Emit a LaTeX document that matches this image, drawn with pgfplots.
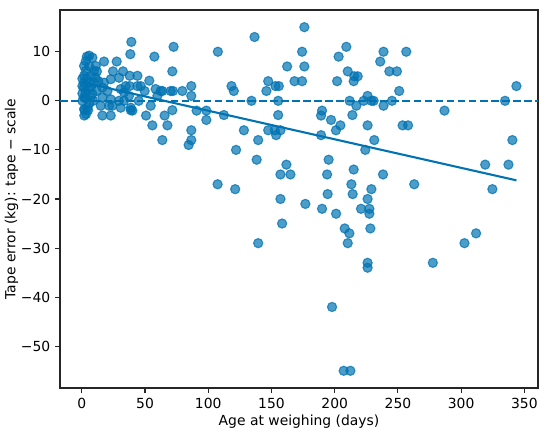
\documentclass[border=0pt]{standalone}
\usepackage{pgfplots}
\pgfplotsset{compat=1.18}
\usepackage{fontspec}
\setmainfont{DejaVu Sans}
\definecolor{cb}{HTML}{0173B2}
\begin{document}
\fontsize{10pt}{12pt}\selectfont
\begin{tikzpicture}
\begin{axis}[
  at={(0,0)}, anchor=south west,
  scale only axis, width=344pt, height=272pt,
  xmin=-17.2, xmax=360.8, ymin=-58.5, ymax=18.5,
  xtick={0,50,100,150,200,250,300,350},
  ytick={-50,-40,-30,-20,-10,0,10},
  yticklabels={−50,−40,−30,−20,−10,0,10},
  /pgf/number format/assume math mode=true,
  tick align=outside, major tick length=3.5pt,
  tick style={line width=0.8pt, black!85},
  axis line style={line width=0.8pt, black!85},
  xtick pos=bottom, ytick pos=left,
  xlabel={Age at weighing (days)},
  ylabel={Tape error (kg): tape − scale},
  xlabel style={yshift=2pt},
  ylabel style={yshift=-5pt},
  tick label style={font=\fontsize{10pt}{12pt}\selectfont},
  label style={font=\fontsize{10pt}{12pt}\selectfont},
  clip=false,
]
\addplot[only marks, mark=*, mark size=3.3pt,
  mark options={fill=cb, fill opacity=0.7, draw=cb, draw opacity=0.75, line width=0.8pt}]
coordinates {
(1.8,7.1)(3.2,8.1)(5.8,9.2)(8.4,8.8)(11,7.1)(3.2,6.1)(9.7,6.1)(1.8,5.1)(7.1,5.1)(11,4.7)
(1.8,3.7)(5.8,3.7)(9.7,3.7)(1.8,2.7)(7.1,2.7)(3.2,1.7)(8.4,1.4)(1.8,0.7)(7.1,0.7)(1.8,-1.7)
(4.5,-1.4)(2.4,-1.9)(5,-1.9)(3.4,-2.7)(0.5,4.5)(0.5,3)(0.5,1.5)(0.5,0)(4,9)(6,7)
(4,4.5)(5,2.5)(3,0.5)(6,-0.5)(2,-3)(9,0)(12,2)(13,4)(12,6)
(15,-1)(21.6,-1)(16.3,-3)(22.9,-3)(17.6,8)(27.6,8)(24.7,6)(32.6,6)(37.9,5.1)(44,5.1)
(22.9,4.4)(29.5,4.7)(17.6,3.7)(34.7,3)(37.8,3)(44,3)(46.6,3)(16.3,2.7)(20.3,2)(30.8,2.4)
(33.4,1.7)(37.3,1)(16.3,0.7)(22.9,0.3)(29.4,0)(33.4,0)(24.2,-1)(30.8,-1.4)(38.7,-1.4)(40,-2)
(45,0)(53.4,4.1)(49.7,2)(58.4,2.4)(62.4,2)(59.8,1)(54.5,-1)(38.7,-1.9)(50.8,-3)(65.5,-3)
(71.6,-1.9)(55.8,-5)(67.7,-5)(63.7,-8)(39.2,12)(38.4,9.5)(72.6,11)(57.4,9)(71.6,6)(107.6,10)
(63.7,2)(70.3,2)(72.1,2)(79.5,2)(86.6,3)(86.6,1)(86.6,-6)(86.6,-8)(84.5,-9)(90.8,-2)
(98.5,-2)(98.5,-3.9)(112.4,-2.9)(118.4,3)(120.2,2)(122,-10)(107.4,-17)(121.3,-18)(128.2,-6)(136.6,13)
(134.2,0)(139.5,-8)(138.3,-12)(139.5,-29)(147.4,4)(146,2)(153.2,3)(155.8,3)(155.3,0)(155.3,-2.9)
(147.4,-6)(152.6,-6)(157.1,-6)(153.7,-7)(161.8,-13)(162.4,7)(157.1,-15)(165,-15)(157.1,-20)(158.4,-25)
(176,15)(174.2,10)(176,7)(168.2,4)(174.2,4)(209.2,11)(203.1,9)(238.6,10)(256.6,10)(236,8)
(243.2,6)(249.2,6)(210.3,6)(215.5,5)(218.2,5)(215,4)(201.9,4)(251,2)(211.8,0)(217.1,-1)
(222.9,0)(226,1)(229,0)(230.8,0)(238.6,-1)(245.3,0)(214,-2.9)(190,-2)(189.2,-3)(197.1,-3.9)
(204.5,-5)(201,-6)(189.2,-7)(226,-5)(231.3,-8)(224.2,-10)(253.7,-5)(258,-5)(195.2,-12)(343.7,3)
(334.7,0)(286.8,-2)(340.5,-8)
(194,-15)(215,-14)(213.2,-17)(214.2,-19)(194.4,-19)(238.2,-15)(229,-18)(226,-20)(220.8,-22)(227.4,-22)
(227.4,-23)(176.8,-21)(190,-22)(201.1,-23)(207.9,-26)(211.6,-27)(210.3,-29)(228.2,-26)(226,-33)(226,-34)
(197.9,-42)(207.1,-55)(212.4,-55)(262.9,-17)(277.6,-33)(302.6,-29)(311.8,-27)(319,-13)(337.4,-13)(324.7,-18)
};
\addplot[cb, line width=1.5pt, dash pattern=on 5.55pt off 2.4pt] coordinates {(-17.2,0)(360.8,0)};
\addplot[cb, line width=1.5pt] coordinates {(0,3.8)(343.7,-16.2)};
\end{axis}
\pgfresetboundingbox
\path[use as bounding box] (-43.2pt,-33.8pt) rectangle (352.6pt,279.2pt);
\end{tikzpicture}
\end{document}
